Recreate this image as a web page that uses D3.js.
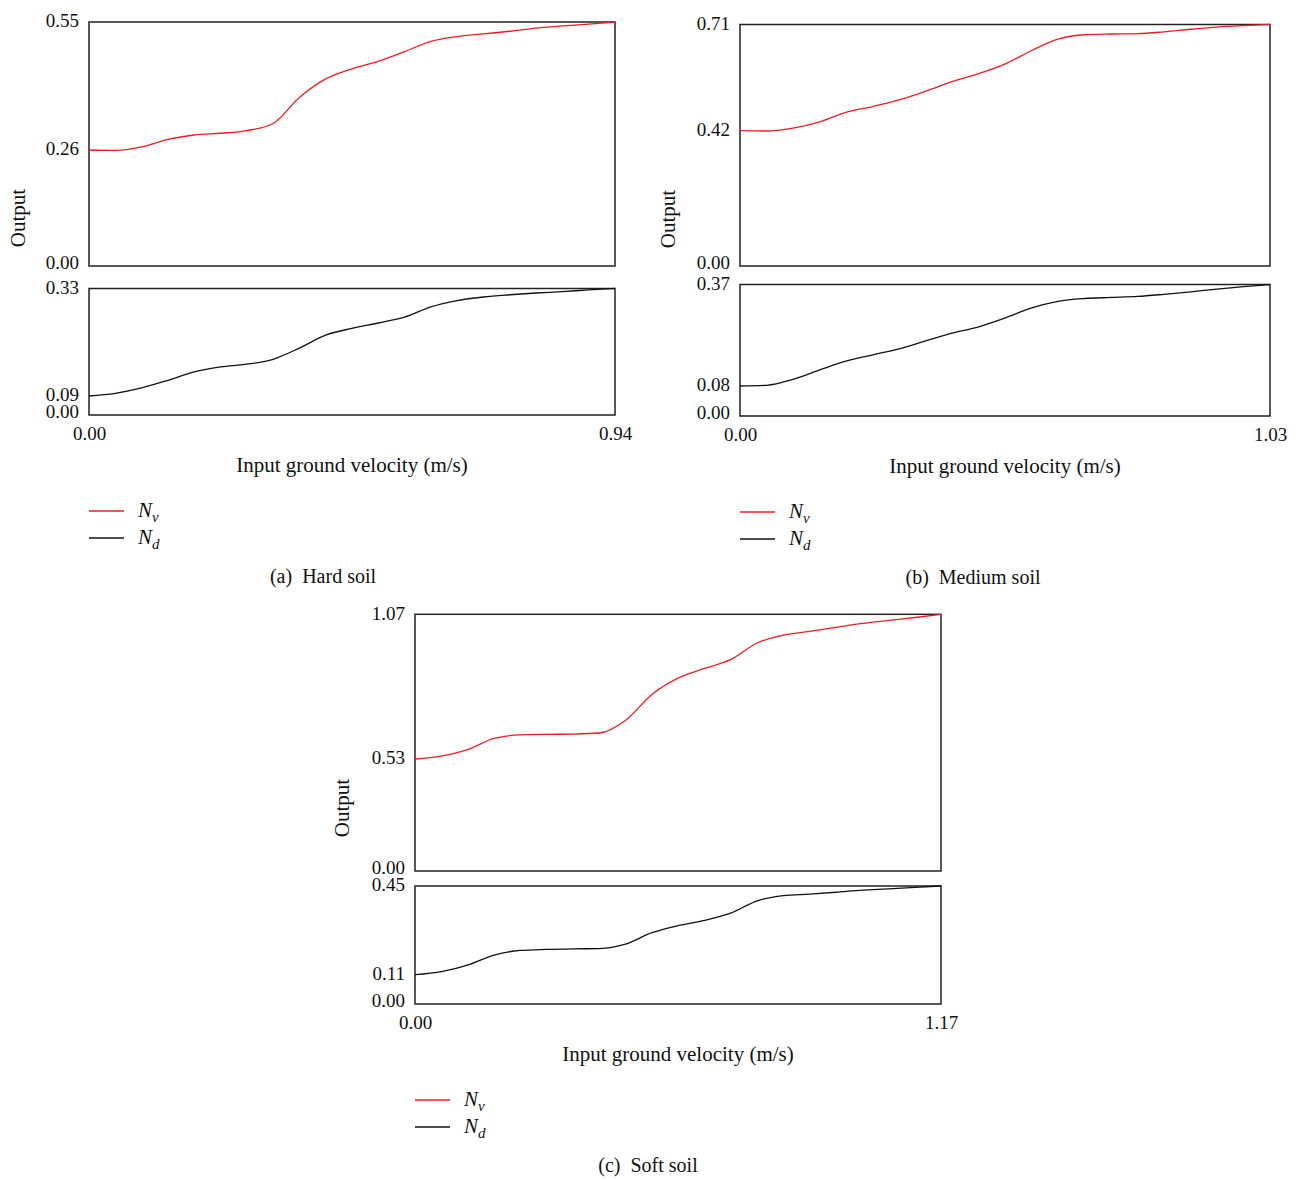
<!DOCTYPE html>
<html lang="en">
<head>
<meta charset="UTF-8"/>
<title>Output vs input ground velocity</title>
<script src="https://d3js.org/d3.v7.min.js"></script>
<style>
body { margin: 0; background: #fff; }
svg { display: block; background: #fff; }
text { font-family: "Liberation Serif", "Times New Roman", serif; fill: #111; }
.tick text { font-size: 19px; }
.frame { fill: none; stroke: #222; stroke-width: 1.5; }
.title { font-size: 21px; }
.caption { font-size: 20px; }
.legend { font-size: 21px; font-style: italic; }
</style>
</head>
<body>
<svg width="1300" height="1180"></svg>
<script>
// (a) hard soil
const hardVel = [0, 0.047, 0.094, 0.141, 0.188, 0.235, 0.282, 0.329, 0.376, 0.423, 0.47,
  0.517, 0.564, 0.611, 0.658, 0.705, 0.752, 0.799, 0.846, 0.893, 0.94];
const hardNv = [0.26, 0.259, 0.267, 0.284, 0.294, 0.298, 0.304, 0.32, 0.379, 0.421, 0.444,
  0.461, 0.483, 0.506, 0.517, 0.523, 0.529, 0.536, 0.541, 0.545, 0.55];
const hardNd = [0.09, 0.096, 0.108, 0.125, 0.144, 0.155, 0.161, 0.172, 0.197, 0.226, 0.241,
  0.253, 0.266, 0.289, 0.303, 0.311, 0.316, 0.32, 0.323, 0.327, 0.33];
const hardNvTicks = [0, 0.26, 0.55];
const hardNdTicks = [0, 0.09, 0.33];
const hardVelTicks = [0, 0.94];

// (b) medium soil
const mediumVel = [0, 0.052, 0.103, 0.155, 0.206, 0.258, 0.309, 0.361, 0.412, 0.464, 0.515,
  0.567, 0.618, 0.67, 0.721, 0.773, 0.824, 0.876, 0.927, 0.979, 1.03];
const mediumNv = [0.42, 0.419, 0.427, 0.444, 0.47, 0.486, 0.504, 0.528, 0.554, 0.576, 0.602,
  0.639, 0.67, 0.682, 0.684, 0.685, 0.69, 0.697, 0.703, 0.707, 0.71];
const mediumNd = [0.08, 0.082, 0.099, 0.126, 0.151, 0.169, 0.186, 0.209, 0.231, 0.249, 0.274,
  0.303, 0.322, 0.33, 0.333, 0.336, 0.342, 0.349, 0.357, 0.364, 0.37];
const mediumNvTicks = [0, 0.42, 0.71];
const mediumNdTicks = [0, 0.08, 0.37];
const mediumVelTicks = [0, 1.03];

// (c) soft soil
const softVel = [0, 0.059, 0.117, 0.176, 0.234, 0.293, 0.351, 0.41, 0.468, 0.527, 0.585,
  0.644, 0.702, 0.761, 0.819, 0.878, 0.936, 0.995, 1.053, 1.112, 1.17];
const softNv = [0.53, 0.541, 0.565, 0.607, 0.62, 0.622, 0.623, 0.627, 0.674, 0.771, 0.832,
  0.868, 0.901, 0.963, 0.992, 1.006, 1.021, 1.036, 1.047, 1.058, 1.07];
const softNd = [0.11, 0.122, 0.147, 0.185, 0.203, 0.207, 0.209, 0.21, 0.227, 0.271, 0.298,
  0.318, 0.346, 0.393, 0.413, 0.419, 0.426, 0.434, 0.439, 0.445, 0.45];
const softNdTicks = [0, 0.11, 0.45];
const softNvTicks = [0, 0.53, 1.07];
const softVelTicks = [0, 1.17];

const RED = '#ec1c24';

const svg = d3.select('svg');

const panels = [
  { vel: hardVel, nv: hardNv, nd: hardNd, nvTicks: hardNvTicks, ndTicks: hardNdTicks, velTicks: hardVelTicks,
    left: 89, right: 615, top: [22, 150, 266], bot: [288.5, 396, 415],
    outX: 18, outY: 218, capX: 323, caption: '(a)\u2002Hard soil' },
  { vel: mediumVel, nv: mediumNv, nd: mediumNd, nvTicks: mediumNvTicks, ndTicks: mediumNdTicks, velTicks: mediumVelTicks,
    left: 740, right: 1270, top: [24.5, 130.7, 266], bot: [284.5, 386, 416],
    outX: 668, outY: 219, capX: 973, caption: '(b)\u2002Medium soil' },
  { vel: softVel, nv: softNv, nd: softNd, nvTicks: softNvTicks, ndTicks: softNdTicks, velTicks: softVelTicks,
    left: 415, right: 941, top: [614.3, 759, 871], bot: [886, 974.7, 1004],
    outX: 342, outY: 808, capX: 648, caption: '(c)\u2002Soft soil' }
];

function drawPanel(p) {
  const g = svg.append('g');
  const x = d3.scaleLinear()
    .domain(d3.extent(p.velTicks))
    .range([p.left, p.right]);

  const parts = [
    { vals: p.nv, ticks: p.nvTicks, box: p.top, color: RED },
    { vals: p.nd, ticks: p.ndTicks, box: p.bot, color: '#111' }
  ];

  parts.forEach((part) => {
    // three-stop scale so tick labels sit where the figure puts them
    const y = d3.scaleLinear()
      .domain(part.ticks)
      .range([part.box[2], part.box[1], part.box[0]]);

    g.append('rect')
      .attr('class', 'frame')
      .attr('x', p.left)
      .attr('y', part.box[0])
      .attr('width', p.right - p.left)
      .attr('height', part.box[2] - part.box[0]);

    const ax = g.append('g')
      .attr('transform', `translate(${p.left},0)`)
      .call(d3.axisLeft(y)
        .tickValues(part.ticks)
        .tickSize(0)
        .tickPadding(10)
        .tickFormat(d3.format('.2f')));
    ax.select('.domain').remove();
    ax.selectAll('text')
      .attr('font-family', null).attr('font-size', null).attr('fill', null)
      .attr('dy', (d) => d === 0 ? '0.12em' : '0.26em');

    const line = d3.line()
      .x((d, i) => x(p.vel[i]))
      .y((d) => y(d))
      .curve(d3.curveMonotoneX);

    g.append('path')
      .datum(part.vals)
      .attr('fill', 'none')
      .attr('stroke', part.color)
      .attr('stroke-width', 1.3)
      .attr('d', line);
  });

  const xa = g.append('g')
    .attr('transform', `translate(0,${p.bot[2]})`)
    .call(d3.axisBottom(x)
      .tickValues(p.velTicks)
      .tickSize(0)
      .tickPadding(12)
      .tickFormat(d3.format('.2f')));
  xa.select('.domain').remove();
  xa.selectAll('text').attr('font-family', null).attr('font-size', null).attr('fill', null);

  g.append('text')
    .attr('class', 'title')
    .attr('x', (p.left + p.right) / 2)
    .attr('y', p.bot[2] + 50)
    .attr('dy', '0.35em')
    .attr('text-anchor', 'middle')
    .text('Input ground velocity (m/s)');

  g.append('text')
    .attr('class', 'title')
    .attr('transform', `translate(${p.outX},${p.outY}) rotate(-90)`)
    .attr('dy', '0.35em')
    .attr('text-anchor', 'middle')
    .text('Output');

  // legend
  const legend = [
    { color: RED, sub: 'v' },
    { color: '#111', sub: 'd' }
  ];
  legend.forEach((l, i) => {
    const ly = p.bot[2] + 96 + i * 27;
    g.append('line')
      .attr('x1', p.left).attr('x2', p.left + 35)
      .attr('y1', ly).attr('y2', ly)
      .attr('stroke', l.color)
      .attr('stroke-width', 1.3);
    const t = g.append('text')
      .attr('class', 'legend')
      .attr('x', p.left + 49)
      .attr('y', ly + 6);
    t.append('tspan').text('N');
    t.append('tspan').attr('font-size', 15).attr('dy', 5).text(l.sub);
  });

  g.append('text')
    .attr('class', 'caption')
    .attr('x', p.capX)
    .attr('y', p.bot[2] + 161)
    .attr('dy', '0.35em')
    .attr('text-anchor', 'middle')
    .text(p.caption);
}

panels.forEach(drawPanel);
</script>
</body>
</html>
